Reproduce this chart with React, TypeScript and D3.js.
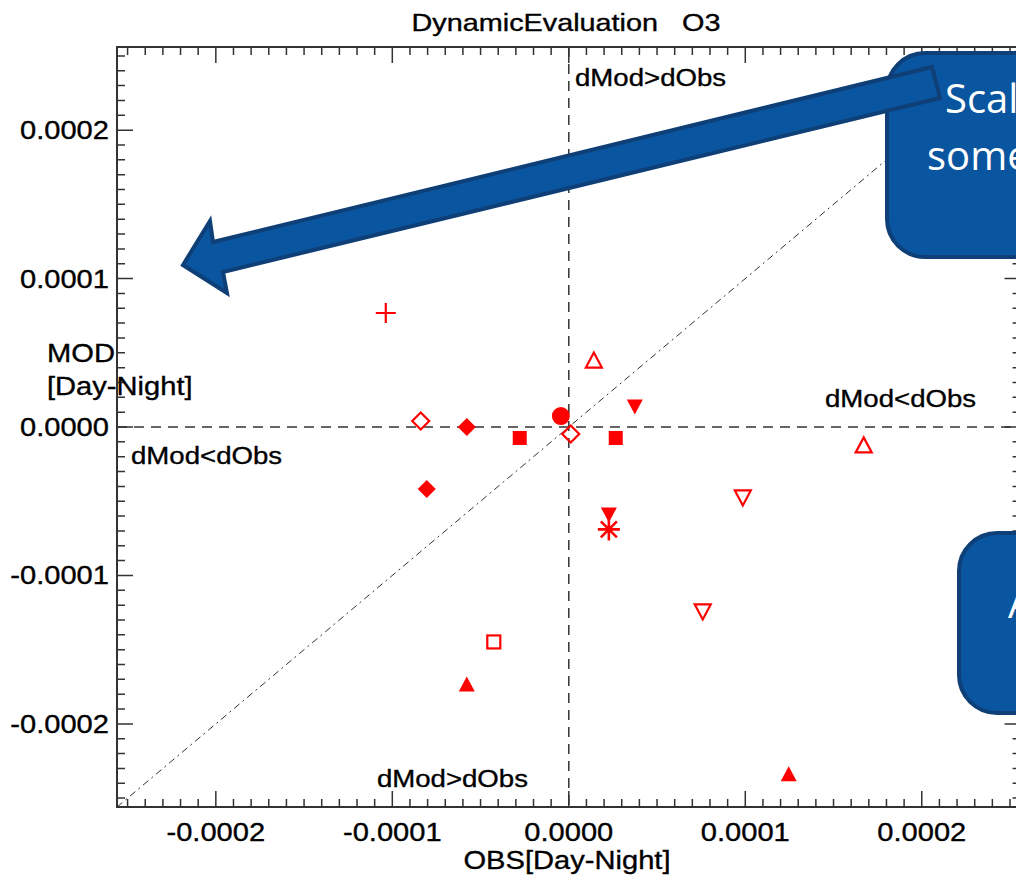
import * as d3 from "d3";

// values (OBS / MOD day-night differences)
const OBS = [
  -1.037e-4, 0.142e-4, -0.045e-4, 0.374e-4, -0.839e-4, -0.578e-4, -0.278e-4, 0.011e-4,
  0.266e-4, 1.671e-4, -0.805e-4, 0.986e-4, 0.227e-4, 0.227e-4, 0.759e-4, -0.425e-4,
  -0.578e-4, 1.246e-4,
];
const MOD = [
  0.768e-4, 0.451e-4, 0.074e-4, 0.134e-4, 0.04e-4, 0.0, -0.074e-4, -0.047e-4,
  -0.074e-4, -0.121e-4, -0.418e-4, -0.478e-4, -0.593e-4, -0.69e-4, -1.246e-4, -1.448e-4,
  -1.731e-4, -2.336e-4,
];
const SYMBOLS = [
  "plus", "triUpOpen", "circle", "triDown", "diamondOpen", "diamond", "square", "diamondOpen",
  "square", "triUpOpen", "diamond", "triDownOpen", "triDown", "asterisk", "triDownOpen", "squareOpen",
  "triUp", "triUp",
];
const TICKS = [-0.0002, -0.0001, 0, 0.0001, 0.0002];
const DOMAIN: [number, number] = [-0.000256, 0.000256];

const W = 1016;
const H = 878;
const FRAME = { left: 117, top: 47, right: 1020.6, bottom: 807 };
const AXIS = "#333";
const RED = "#ff0000";
const BLUE = "#0a55a0";
const BLUE_EDGE = "#0e3f77";
const FONT = "'Liberation Sans', Arial, sans-serif";

function Txt({ x, y, size = 26, sx = 1.12, anchor = "start", children }: any) {
  return (
    <text
      transform={`translate(${x},${y}) scale(${sx},1)`}
      textAnchor={anchor}
      fontFamily={FONT}
      fontSize={size}
      fill="#000"
      stroke="#000"
      strokeWidth={0.35}
      style={{ whiteSpace: "pre" }}
    >
      {children}
    </text>
  );
}

function marker(kind: string, cx: number, cy: number, key: number) {
  const open = { fill: "none", stroke: RED, strokeWidth: 2.2 };
  const solid = { fill: RED, stroke: "none" };
  const tri = (dir: number) => {
    const h = 15, w = 8;
    return `M${cx - w},${cy - (dir * h) / 2}L${cx + w},${cy - (dir * h) / 2}L${cx},${cy + (dir * h) / 2}Z`;
  };
  const dia = (r: number) => `M${cx},${cy - r}L${cx + r},${cy}L${cx},${cy + r}L${cx - r},${cy}Z`;
  switch (kind) {
    case "plus":
      return (
        <path key={key} d={`M${cx - 10},${cy}H${cx + 10}M${cx},${cy - 10}V${cy + 10}`} stroke={RED} strokeWidth={2.2} />
      );
    case "asterisk":
      return (
        <path
          key={key}
          d={`M${cx - 11},${cy}H${cx + 11}M${cx},${cy - 11}V${cy + 11}M${cx - 8},${cy - 8}L${cx + 8},${cy + 8}M${cx - 8},${cy + 8}L${cx + 8},${cy - 8}`}
          stroke={RED}
          strokeWidth={2.6}
        />
      );
    case "circle":
      return <circle key={key} cx={cx} cy={cy} r={9} {...solid} />;
    case "square":
      return <rect key={key} x={cx - 7} y={cy - 7} width={14} height={14} {...solid} />;
    case "squareOpen":
      return <rect key={key} x={cx - 6.5} y={cy - 6.5} width={13} height={13} {...open} />;
    case "diamond":
      return <path key={key} d={dia(9)} {...solid} />;
    case "diamondOpen":
      return <path key={key} d={dia(8.5)} {...open} />;
    case "triUp":
      return <path key={key} d={tri(-1)} {...solid} />;
    case "triUpOpen":
      return <path key={key} d={tri(-1)} {...open} />;
    case "triDown":
      return <path key={key} d={tri(1)} {...solid} />;
    case "triDownOpen":
      return <path key={key} d={tri(1)} {...open} />;
  }
  return null;
}

export default function App() {
  const x = d3.scaleLinear().domain(DOMAIN).range([FRAME.left, FRAME.right]);
  const y = d3.scaleLinear().domain(DOMAIN).range([FRAME.bottom, FRAME.top]);
  const minor = d3.range(-25, 26).map((i) => i * 0.00001);
  const fmt = (v: number) => (v === 0 ? "0.0000" : v.toFixed(4));

  // tick marks on all four sides, pointing inward
  const tickPath: string[] = [];
  minor.forEach((v) => {
    const major = TICKS.some((t) => Math.abs(t - v) < 1e-9);
    const len = major ? 16 : 8;
    const px = x(v), py = y(v);
    tickPath.push(`M${px},${FRAME.bottom}v${-len}M${px},${FRAME.top}v${len}`);
    tickPath.push(`M${FRAME.left},${py}h${len}M${FRAME.right},${py}h${-len}`);
  });

  // PowerPoint overlay: callout boxes and block arrow
  const arrow = [
    [932, 67], [940, 98], [223, 272], [227, 293], [183, 265], [210, 221], [213, 242],
  ];

  return (
    <svg
      width={W}
      height={H}
      style={{ position: "absolute", left: 0, top: 0, background: "#fff" }}
    >
      <Txt x={566} y={31} size={24} sx={1.2} anchor="middle">
        {"DynamicEvaluation   O3"}
      </Txt>

      {/* zero lines and 1:1 line */}
      <line x1={FRAME.left} x2={FRAME.right} y1={y(0)} y2={y(0)} stroke={AXIS} strokeWidth={1.5} strokeDasharray="10 7" />
      <line x1={x(0)} x2={x(0)} y1={FRAME.top} y2={FRAME.bottom} stroke={AXIS} strokeWidth={1.5} strokeDasharray="10 7" />
      <line
        x1={x(DOMAIN[0])} y1={y(DOMAIN[0])} x2={x(DOMAIN[1])} y2={y(DOMAIN[1])}
        stroke={AXIS} strokeWidth={1} strokeDasharray="7 4 2 4"
      />

      <rect
        x={FRAME.left} y={FRAME.top}
        width={FRAME.right - FRAME.left} height={FRAME.bottom - FRAME.top}
        fill="none" stroke={AXIS} strokeWidth={2}
      />
      <path d={tickPath.join("")} stroke={AXIS} strokeWidth={1.5} fill="none" />

      {TICKS.map((t) => (
        <Txt key={"x" + t} x={x(t)} y={841} anchor="middle">{fmt(t)}</Txt>
      ))}
      {TICKS.map((t) => (
        <Txt key={"y" + t} x={109} y={y(t) + 9} anchor="end">{fmt(t)}</Txt>
      ))}
      <Txt x={567} y={869} anchor="middle">OBS[Day-Night]</Txt>
      <Txt x={47} y={362}>MOD</Txt>
      <Txt x={47} y={395}>[Day-Night]</Txt>

      <Txt x={575} y={86} size={24} sx={1.15}>dMod&gt;dObs</Txt>
      <Txt x={825} y={407} size={24} sx={1.15}>dMod&lt;dObs</Txt>
      <Txt x={131} y={464} size={24} sx={1.15}>dMod&lt;dObs</Txt>
      <Txt x={528} y={787} size={24} sx={1.15} anchor="end">dMod&gt;dObs</Txt>

      {OBS.map((o, i) => marker(SYMBOLS[i], x(o), y(MOD[i]), i))}

      <rect x={887} y={53} width={220} height={204} rx={38} fill={BLUE} stroke={BLUE_EDGE} strokeWidth={4} />
      <text x={945} y={113} fontFamily="'Open Sans', sans-serif" fontSize={40} fill="#fff">Scal</text>
      <text x={927} y={170} fontFamily="'Open Sans', sans-serif" fontSize={40} fill="#fff">some</text>

      <rect x={959} y={533} width={200} height={180} rx={38} fill={BLUE} stroke={BLUE_EDGE} strokeWidth={4} />
      <text x={1008} y={618} fontFamily="'Open Sans', sans-serif" fontSize={40} fill="#fff">A</text>

      <polygon points={arrow.map((p) => p.join(",")).join(" ")} fill={BLUE} stroke={BLUE_EDGE} strokeWidth={4} strokeLinejoin="miter" />
    </svg>
  );
}
